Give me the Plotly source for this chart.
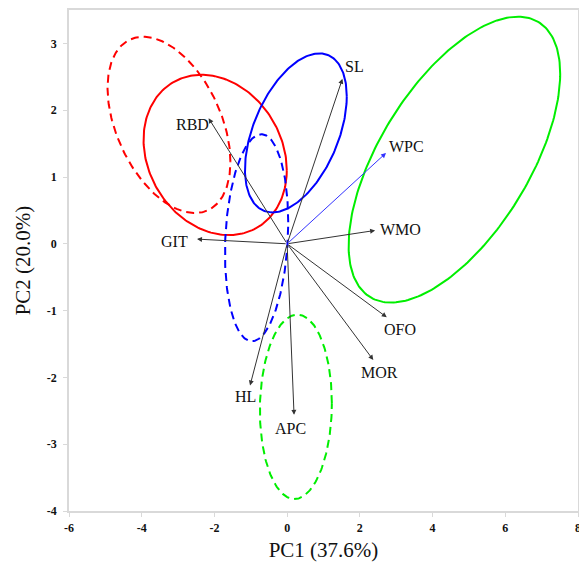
import numpy as np
import plotly.graph_objects as go

# Loading vectors (arrow tips) and label positions
var_names = ["SL", "WPC", "WMO", "GIT", "RBD", "OFO", "MOR", "APC", "HL"]
load_x = [1.52, 2.72, 2.42, -2.48, -2.16, 2.74, 2.37, 0.19, -1.02]
load_y = [2.47, 1.36, 0.20, 0.07, 1.88, -1.10, -1.74, -2.56, -2.12]
label_x = [1.85, 3.28, 3.12, -3.1, -2.6, 3.1, 2.55, 0.1, -1.15]
label_y = [2.65, 1.45, 0.22, 0.03, 1.78, -1.28, -1.93, -2.77, -2.29]
arrow_colors = ["#333333", "#3333ff", "#333333", "#333333", "#333333",
                "#333333", "#333333", "#333333", "#333333"]

x_ticks = [-6, -4, -2, 0, 2, 4, 6, 8]
x_ticktext = ["-6", "-4", "-2", "0", "2", "4", "6", "8"]
y_ticks = [-4, -3, -2, -1, 0, 1, 2, 3]
y_ticktext = ["-4", "-3", "-2", "-1", "0", "1", "2", "3"]

# Confidence ellipses: center, half extents, correlation
ell_cx = [-1.98, -3.25, 0.24, -0.84, 4.60, 0.24]
ell_cy = [1.33, 1.78, 1.66, 0.09, 1.26, -2.44]
ell_sx = [1.97, 1.69, 1.40, 0.87, 2.91, 0.99]
ell_sy = [1.20, 1.32, 1.19, 1.55, 2.14, 1.38]
ell_rho = [-0.19, -0.42, 0.46, 0.15, 0.60, 0.04]
ell_color = ["#ff0000", "#ff0000", "#0000ff", "#0000ff", "#00ee00", "#00ee00"]
ell_dash = ["solid", "8px,5px", "solid", "8px,5px", "solid", "8px,5px"]

fig = go.Figure()
t = np.linspace(0, 2 * np.pi, 240)
for cx, cy, sx, sy, r, c, d in zip(ell_cx, ell_cy, ell_sx, ell_sy, ell_rho, ell_color, ell_dash):
    xs = cx + sx * np.cos(t)
    ys = cy + sy * (r * np.cos(t) + np.sqrt(1 - r * r) * np.sin(t))
    fig.add_trace(go.Scatter(x=xs, y=ys, mode="lines",
                             line=dict(color=c, width=2, dash=d),
                             hoverinfo="skip", showlegend=False))

font_family = "Liberation Serif, Times New Roman, serif"
for name, x, y, lx, ly, col in zip(var_names, load_x, load_y, label_x, label_y, arrow_colors):
    fig.add_annotation(x=x, y=y, ax=0, ay=0, xref="x", yref="y", axref="x", ayref="y",
                       showarrow=True, arrowhead=2, arrowsize=1, arrowwidth=1,
                       arrowcolor=col, text="")
    fig.add_annotation(x=lx, y=ly, text=name, showarrow=False,
                       font=dict(family=font_family, size=16, color="#111111"))

axis_common = dict(showgrid=False, zeroline=False, showline=True, mirror=True,
                   linecolor="#d9d9d9", linewidth=1.5, ticks="outside", ticklen=4,
                   tickcolor="#d9d9d9", automargin=False,
                   tickfont=dict(family=font_family, size=12, color="#111111", weight="bold"))
fig.update_xaxes(range=[-6, 8], tickvals=x_ticks, ticktext=x_ticktext, ticklabelstandoff=1,
                 title=dict(text="PC1 (37.6%)", font=dict(family=font_family, size=21, color="#111111"), standoff=8),
                 **axis_common)
fig.update_yaxes(range=[-4, 3.5], tickvals=y_ticks, ticktext=y_ticktext, ticklabelstandoff=4,
                 title=dict(text="PC2 (20.0%)", font=dict(family=font_family, size=21, color="#111111"), standoff=10),
                 **axis_common)
fig.update_layout(width=579, height=556, plot_bgcolor="white", paper_bgcolor="white",
                  margin=dict(l=61, r=9, t=2, b=53), showlegend=False)
fig.write_html("out.html")
